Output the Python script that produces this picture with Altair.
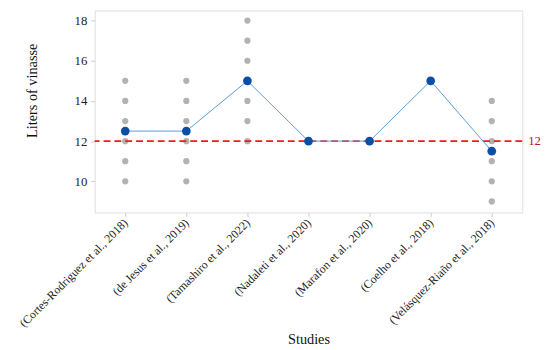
import altair as alt
import pandas as pd

studies = [
    "(Cortes-Rodriguez et al., 2018)",
    "(de Jesus et al., 2019)",
    "(Tamashiro et al., 2022)",
    "(Nadaleti et al., 2020)",
    "(Marafon et al., 2020)",
    "(Coelho et al., 2018)",
    "(Velásquez-Riaño et al., 2018)",
]
study_values = [
    [10, 11, 12, 13, 14, 15],
    [10, 11, 12, 13, 14, 15],
    [12, 13, 14, 15, 16, 17, 18],
    [12],
    [12],
    [15],
    [9, 10, 11, 12, 13, 14],
]
means = [12.5, 12.5, 15, 12, 12, 15, 11.5]
reference_value = 12

rows = []
for s, vals in zip(studies, study_values):
    for v in vals:
        rows.append({"study": s, "liters": v})
pts = pd.DataFrame(rows)
mdf = pd.DataFrame({"study": studies, "liters": means})
refdf = pd.DataFrame({"ref": [reference_value], "label": [str(reference_value)]})

FONT = "Liberation Serif"
W, H = 434, 205

xenc = alt.X(
    "study:N",
    sort=studies,
    scale=alt.Scale(type="point", padding=0.5),
    axis=alt.Axis(
        title="Studies",
        labelAngle=-45,
        labelAlign="right",
        labelBaseline="middle",
        labelFontSize=12,
        labelColor="#222222",
        labelFont=FONT,
        titleFont=FONT,
        titleFontSize=14.5,
        titleFontWeight="normal",
        titleColor="#111111",
        titleY=129,
        titleBaseline="middle",
        domain=False,
        tickColor="#cccccc",
        tickSize=4,
        grid=False,
        labelPadding=4,
    ),
)
yscale = alt.Scale(domain=[8.45, 18.5], nice=False, zero=False)
yenc = alt.Y(
    "liters:Q",
    scale=yscale,
    axis=alt.Axis(
        title="Liters of vinasse",
        values=[10, 12, 14, 16, 18],
        labelFontSize=13,
        labelColor="#222222",
        labelFont=FONT,
        titleFont=FONT,
        titleFontSize=14.5,
        titleFontWeight="normal",
        titleColor="#111111",
        titleX=-63,
        titleY=81,
        titleBaseline="middle",
        titleAlign="center",
        titleAngle=-90,
        domain=False,
        tickColor="#cccccc",
        tickSize=4,
        grid=False,
        labelPadding=4,
    ),
)

dots = alt.Chart(pts).mark_circle(size=40, color="#b2b2b2", opacity=1).encode(x=xenc, y=yenc)

rule = alt.Chart(refdf).mark_rule(color="#ee1c1c", strokeDash=[7, 4], strokeWidth=1.6).encode(
    y=alt.Y("ref:Q", scale=yscale)
)
rule_label = alt.Chart(refdf).mark_text(
    align="left", baseline="middle", font=FONT, fontSize=13, color="#b22222", dx=6
).encode(x=alt.value(W), y=alt.Y("ref:Q", scale=yscale), text="label:N")

line = alt.Chart(mdf).mark_line(color="#5b9bd5", strokeWidth=1).encode(x=xenc, y=yenc)
mpts = alt.Chart(mdf).mark_circle(size=78, color="#0a4ea6", opacity=1).encode(x=xenc, y=yenc)

chart = (
    alt.layer(dots, rule, line, mpts, rule_label)
    .properties(
        width=W,
        height=H,
        autosize=alt.AutoSizeParams(type="none"),
        padding={"left": 88, "top": 0, "right": 20, "bottom": 135},
    )
    .configure_view(stroke="#dddddd", strokeWidth=1)
    .configure(background="white")
)

chart.save("out.html", embed_options={"renderer": "svg", "actions": False})
